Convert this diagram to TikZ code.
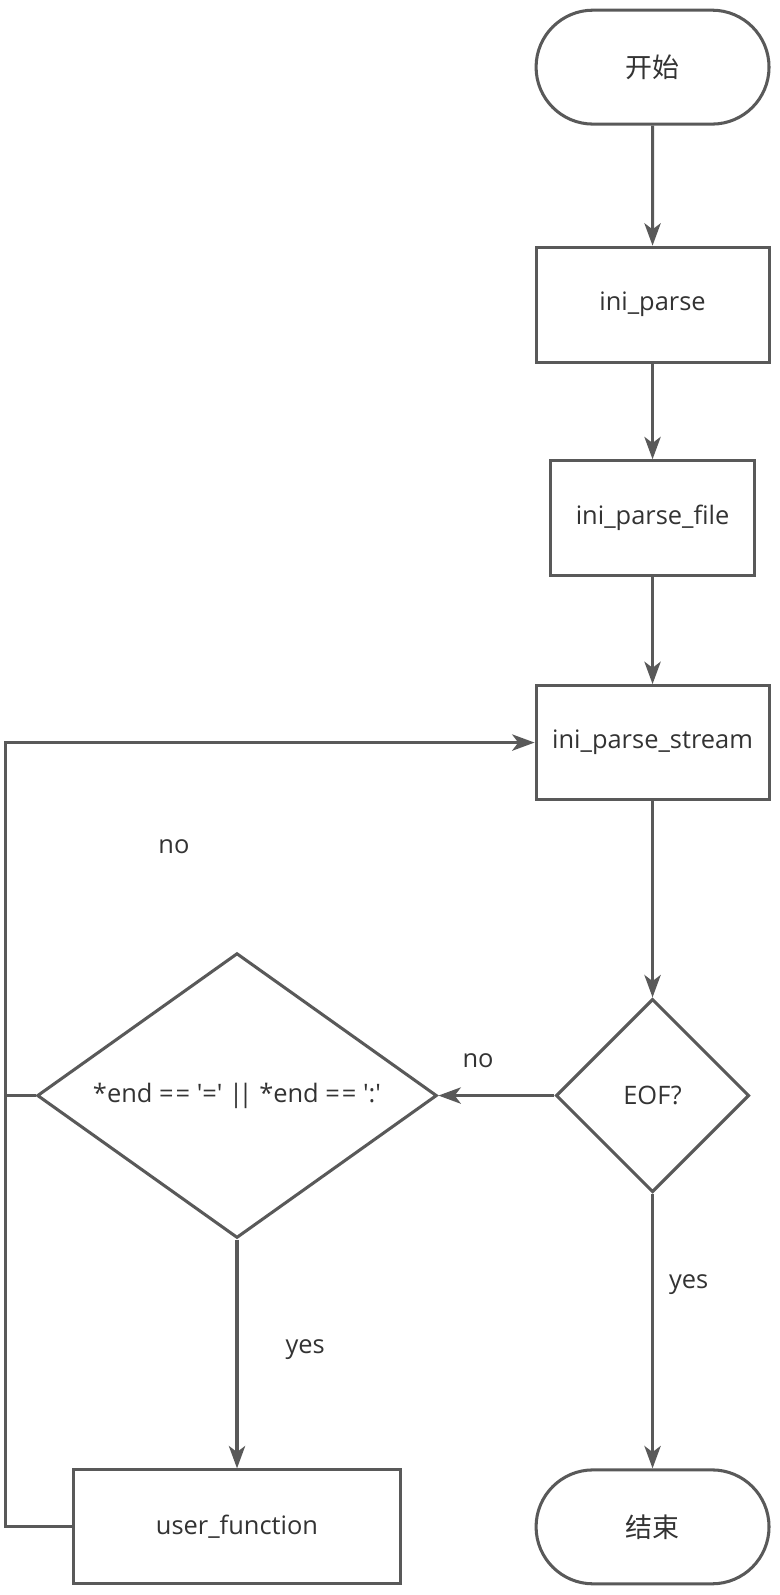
\documentclass[tikz,border=0pt]{standalone}
\usepackage{fontspec}
\setmainfont{Open Sans}
\newfontfamily\cjkfont{Noto Sans CJK SC}
\usetikzlibrary{shapes.geometric,shapes.misc,arrows.meta}
\definecolor{linegray}{HTML}{595959}
\definecolor{textgray}{HTML}{333333}
\newcommand{\sq}{\textquotesingle}
\begin{document}
\begin{tikzpicture}[x=1pt,y=-1pt,line width=3pt,
  every node/.style={font=\fontsize{25}{30}\selectfont,text=textgray},
  procbox/.style={draw=linegray,rectangle,minimum width=229pt,minimum height=113pt,inner sep=0pt},
  termbox/.style={draw=linegray,rounded rectangle,minimum width=229pt,minimum height=112pt,inner sep=0pt,font=\cjkfont\fontsize{26.5}{30}\selectfont},
  decbox/.style={draw=linegray,diamond,inner sep=0pt},
  flow/.style={draw=linegray,-{Stealth[length=22pt,width=16pt,inset=6pt]}},
  plain/.style={draw=linegray}]
\useasboundingbox (0,0) rectangle (766,1568);
\node[termbox] (start) at (641.5,66) {开始};
\node[procbox] (parse) at (641.5,299.5) {ini\_parse};
\node[procbox,minimum width=200pt] (parsefile) at (641.5,509.5) {ini\_parse\_file};
\node[procbox,minimum height=112pt] (stream) at (641.5,730) {ini\_parse\_stream};
\node[decbox,minimum width=190pt,minimum height=190pt] (eof) at (641.5,1077) {EOF?};
\node[decbox,aspect=1.4,minimum width=393pt,minimum height=280pt] (cond) at (233,1077) {*end =\kern2pt= \sq=\sq{} |\kern-4.5pt| *end =\kern2pt= \sq:\sq};
\node[procbox,minimum width=322pt,minimum height=112pt] (userfn) at (233,1501) {user\_function};
\node[termbox] (finish) at (641.5,1501) {结束};
\node (noloop) at (171,832) {no};
\node (noeof) at (470,1043) {no};
\node (yescond) at (300,1327) {yes};
\node (yeseof) at (677,1263) {yes};
\coordinate (loopx) at (5,0);
\draw[flow] (start) -- (parse);
\draw[flow] (parse) -- (parsefile);
\draw[flow] (parsefile) -- (stream);
\draw[flow] (stream) -- (eof);
\draw[flow] (eof) -- (cond);
\draw[flow] (eof) -- (finish);
\draw[flow] (cond) -- (userfn);
\draw[flow] (userfn.west) -- (userfn.west -| loopx) |- (stream.west);
\draw[plain] (cond.west) -- (cond.west -| loopx);
\end{tikzpicture}
\end{document}
